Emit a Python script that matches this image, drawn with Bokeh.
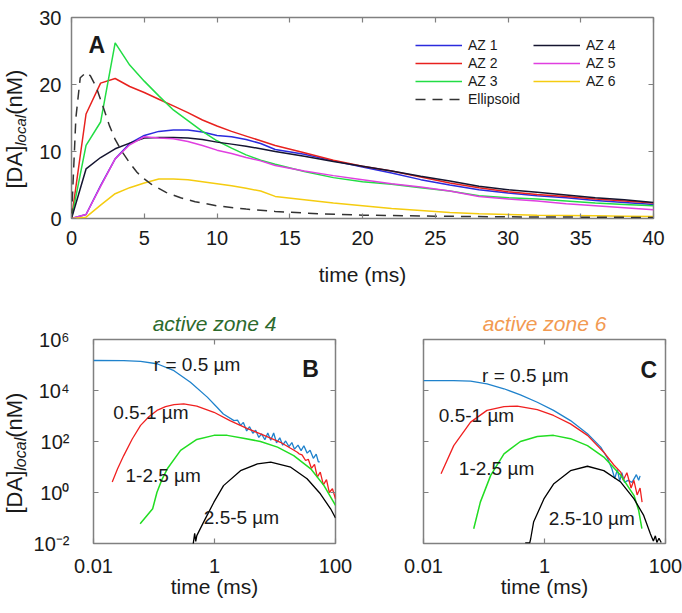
import math
from bokeh.plotting import figure
from bokeh.models import (Legend, LegendItem, Label, FixedTicker, LinearAxis, LogAxis,
                          CustomJSTickFormatter, Range1d)
from bokeh.core.properties import value
from bokeh.layouts import column, row
from bokeh.embed import file_html
from bokeh.resources import INLINE

FONT = "Liberation Sans"
TXT = "#1a1a1a"
GRAY = "#808080"

# ---------------- Panel A data ----------------
t_A = [0, 1, 2, 3, 4, 5, 6, 7, 8, 9, 10, 11, 12, 13, 14, 16, 18, 20, 22, 24, 26, 28, 30, 32, 34, 36, 38, 40]
az1 = [0, 0.6, 4.9, 8.9, 11.2, 12.4, 13.0, 13.2, 13.2, 12.9, 12.4, 12.2, 11.8, 11.2, 10.3, 9.6, 8.6, 7.7, 6.8, 5.8, 5.0, 4.3, 3.8, 3.4, 3.1, 2.7, 2.4, 2.1]
az2 = [0, 15.6, 20.2, 20.9, 19.7, 18.8, 17.8, 16.8, 15.8, 14.7, 13.8, 13.0, 12.3, 11.6, 10.9, 9.8, 8.7, 7.8, 7.1, 6.2, 5.3, 4.6, 4.0, 3.6, 3.3, 2.9, 2.6, 2.3]
az3 = [0, 10.9, 14.4, 26.2, 22.9, 20.5, 18.3, 16.2, 14.6, 13.0, 11.6, 10.5, 9.5, 8.7, 8.1, 7.0, 6.1, 5.5, 5.1, 4.6, 4.1, 3.4, 3.1, 2.9, 2.6, 2.3, 2.1, 1.9]
az4 = [0, 7.4, 9.1, 10.4, 11.25, 12.0, 12.1, 12.1, 12.0, 11.8, 11.4, 11.1, 10.8, 10.4, 10.0, 9.3, 8.5, 7.8, 7.1, 6.3, 5.6, 4.8, 4.3, 3.9, 3.5, 3.1, 2.8, 2.4]
az5 = [0, 0.6, 4.8, 8.9, 11.0, 12.2, 12.0, 11.9, 11.5, 10.9, 10.2, 9.7, 9.1, 8.6, 7.9, 7.1, 6.4, 5.8, 5.2, 4.7, 4.1, 3.3, 2.9, 2.6, 2.2, 1.9, 1.6, 1.3]
az6 = [0, 0.2, 2.0, 3.7, 4.6, 5.3, 5.9, 5.9, 5.8, 5.5, 5.2, 4.9, 4.5, 4.1, 3.3, 2.8, 2.3, 1.9, 1.5, 1.2, 0.9, 0.7, 0.6, 0.5, 0.45, 0.4, 0.35, 0.3]
t_ell = [0, 0.3, 0.6, 1.0, 1.3, 1.7, 2.2, 2.6, 3.0, 3.5, 4.0, 4.5, 5.0, 5.5, 6.5, 7.5, 8.5, 10, 12, 14, 17, 20, 25, 30, 35, 40]
ellipsoid = [0, 15, 21, 21.8, 21.3, 19.6, 16.5, 13.9, 11.8, 9.9, 8.3, 6.9, 5.9, 5.1, 3.9, 3.1, 2.5, 1.9, 1.4, 1.05, 0.7, 0.5, 0.35, 0.25, 0.2, 0.15]
xticks_A = [0, 5, 10, 15, 20, 25, 30, 35, 40]
yticks_A = [0, 10, 20, 30]

# ---------------- Panel B data (active zone 4) ----------------
b_r05_t = [0.01, 0.0316, 0.06, 0.112, 0.214, 0.4, 0.76, 1.1, 1.4, 2.1, 2.4, 2.7, 3.0, 3.4, 3.8, 4.3, 4.8, 5.4, 6.0, 6.8, 7.6, 8.5, 9.5, 10.6, 12, 13.4, 15, 17, 19, 21, 24, 27, 30, 34, 38, 43, 48, 52, 55]
b_r05_v = [1.5e5, 1.48e5, 1.38e5, 1.12e5, 6.0e4, 2.1e4, 5.5e3, 2.2e3, 1.2e3, 660, 690, 430, 560, 260, 380, 210, 275, 145, 200, 117, 215, 112, 215, 89, 140, 72, 105, 63, 91, 50, 72, 44, 68, 35, 45, 22, 32, 16, 16]
b_r1_t = [0.0204, 0.025, 0.0316, 0.0437, 0.06, 0.083, 0.112, 0.155, 0.214, 0.31, 0.51, 0.98, 1.8, 3.5, 6.6, 12.3, 23.4, 25, 28, 32, 35.5, 40, 45, 50, 56, 63, 71, 79, 89, 100]
b_r1_v = [2.6, 8.5, 28, 125, 430, 950, 1660, 2340, 2800, 3000, 2450, 1400, 660, 320, 175, 93, 38, 33, 30, 18, 20, 8.9, 12.6, 4.0, 6.3, 2.0, 3.2, 1.0, 1.4, 0.56]
b_r25_t = [0.059, 0.095, 0.112, 0.135, 0.166, 0.275, 0.51, 0.98, 1.62, 3.0, 5.75, 11, 20.4, 39, 64.6, 100]
b_r25_v = [0.059, 0.23, 1.02, 3.2, 8.5, 45, 120, 174, 174, 135, 100, 60, 28, 8.5, 1.86, 0.31]
b_r5_t = [0.44, 0.47, 0.49, 0.51, 0.66, 0.977, 1.41, 2.69, 5.13, 8.5, 18.2, 33.9, 56.2, 83, 100]
b_r5_v = [0.008, 0.025, 0.012, 0.0204, 0.069, 0.417, 1.86, 7.2, 13.2, 15.5, 9.8, 3.47, 0.89, 0.23, 0.1]

# ---------------- Panel C data (active zone 6) ----------------
c_r05_t = [0.01, 0.0316, 0.06, 0.112, 0.214, 0.4, 0.76, 1.41, 2.69, 5.13, 8.5, 11, 13, 14.5, 16, 17.5, 19, 21, 24, 28, 33, 36, 38]
c_r05_v = [2.45e4, 2.45e4, 2.34e4, 1.82e4, 1.17e4, 6760, 3470, 1660, 660, 200, 60, 22, 8.5, 3.5, 8, 2.8, 6, 2.5, 3, 2.5, 5, 3, 4.5]
c_r1_t = [0.0195, 0.0316, 0.06, 0.112, 0.214, 0.355, 0.76, 1.41, 2.69, 5.13, 9.55, 14, 18.2, 20, 23, 27, 30, 34, 38, 41]
c_r1_v = [5.4, 69, 575, 1660, 2340, 2450, 1780, 1050, 490, 174, 38, 12, 6.3, 3, 6, 1.5, 3, 0.8, 1.5, 0.42]
c_r25_t = [0.0676, 0.087, 0.129, 0.214, 0.4, 0.76, 1.41, 2.69, 5.13, 9.55, 18.2, 30.2, 36, 40.7]
c_r25_v = [0.038, 0.42, 4.7, 33, 100, 158, 174, 129, 69, 24.5, 4.7, 0.76, 0.2, 0.038]
c_r10_t = [0.48, 0.57, 0.59, 0.66, 0.977, 1.41, 2.69, 5.13, 9.55, 18.2, 30.2, 43.6, 56.2, 63, 68, 72, 78, 85]
c_r10_v = [0.0105, 0.0105, 0.015, 0.069, 0.56, 2.14, 7.2, 10.7, 7.2, 2.57, 0.56, 0.126, 0.024, 0.0126, 0.02, 0.011, 0.016, 0.011]

xticks_log = [0.01, 1, 100]
yticks_log = [1e-2, 1, 1e2, 1e4, 1e6]

C_BLUE, C_RED, C_GREEN, C_BLACK = "#1f82cc", "#f02020", "#22dd22", "#000000"
STRIP_W = 30


def style_axis(ax, fs, labels=True, standoff=5):
    ax.axis_line_color = None
    ax.major_tick_in = 5
    ax.major_tick_out = 0
    ax.minor_tick_in = 0
    ax.minor_tick_out = 0
    ax.minor_tick_line_color = None
    ax.major_tick_line_color = GRAY
    ax.major_tick_line_width = 1.2
    ax.major_label_text_font = FONT
    if labels:
        ax.major_label_text_color = TXT
        ax.major_label_text_font_size = fs
        ax.major_label_standoff = standoff
    else:
        ax.major_label_text_color = None
        ax.major_label_text_font_size = "1px"
        ax.major_label_standoff = 0
    ax.axis_label_text_font = FONT
    ax.axis_label_text_font_style = "normal"
    ax.axis_label_text_color = TXT


def add_label(p, x, y, text, size, style="normal", align="left", angle=0.0, color=TXT, baseline="alphabetic"):
    p.add_layout(Label(x=x, y=y, text=text, angle=angle, text_font=FONT,
                       text_font_size=f"{size}px", text_font_style=style, text_color=color,
                       text_align=align, text_baseline=baseline))


def label_strip(height, top, bottom, y_start, big, small, w=STRIP_W):
    """Narrow figure whose frame lines up with its neighbour's frame; y is in pixels from the
    top of the row, so the rotated [DA]_local (nM) title can be placed like the reference."""
    s = figure(width=w, height=height, x_range=Range1d(0, w), y_range=Range1d(height - bottom, top),
               title=None, min_border=0, min_border_left=0, min_border_right=0,
               min_border_top=top, min_border_bottom=bottom,
               x_axis_location=None, y_axis_location=None, output_backend="svg", toolbar_location=None)
    s.grid.visible = False
    s.outline_line_color = None
    len_da = 1.945 * big
    len_loc = 2.056 * small
    len_nm = 2.055 * big
    ys = [y_start - len_da / 2, y_start - len_da - len_loc / 2, y_start - len_da - len_loc - len_nm / 2]
    xs = [13.5, 19.5, 13.5]
    for (txt, x, y, size, style) in [("[DA]", xs[0], ys[0], big, "normal"),
                                     ("local", xs[1], ys[1], small, "italic"),
                                     ("(nM)", xs[2], ys[2], big, "normal")]:
        s.text(x=[x], y=[y], text=[txt], angle=math.pi / 2, text_font=value(FONT),
               text_font_size=f"{size}px", text_font_style=style, text_color=TXT,
               text_align="center", text_baseline="middle")
    return s


# ================= Panel A =================
pA = figure(frame_width=582, frame_height=201, x_range=(0, 40), y_range=(0, 30),
            min_border_left=71 - STRIP_W, min_border_right=29, min_border_top=17, min_border_bottom=82,
            output_backend="svg", toolbar_location=None)
pA.grid.visible = False
pA.outline_line_color = GRAY
pA.outline_line_width = 1.5
pA.xaxis.ticker = FixedTicker(ticks=xticks_A)
pA.yaxis.ticker = FixedTicker(ticks=yticks_A)
style_axis(pA.xaxis[0], "20px", standoff=12)
style_axis(pA.yaxis[0], "20px", standoff=10)
pA.xaxis[0].axis_label = "time (ms)"
pA.xaxis[0].axis_label_text_font_size = "21px"
pA.xaxis[0].axis_label_standoff = 15
topA = LinearAxis(ticker=FixedTicker(ticks=xticks_A))
style_axis(topA, "1px", labels=False)
pA.add_layout(topA, "above")
rightA = LinearAxis(ticker=FixedTicker(ticks=yticks_A))
style_axis(rightA, "1px", labels=False)
pA.add_layout(rightA, "right")

rA1 = pA.line(t_A, az1, line_color="#2b2bdd", line_width=1.5)
rA2 = pA.line(t_A, az2, line_color="#e8211e", line_width=1.5)
rA3 = pA.line(t_A, az3, line_color="#22dd44", line_width=1.5)
rA4 = pA.line(t_A, az4, line_color="#151530", line_width=1.5)
rA5 = pA.line(t_A, az5, line_color="#e03fe0", line_width=1.5)
rA6 = pA.line(t_A, az6, line_color="#f5cc10", line_width=1.5)
rAe = pA.line(t_ell, ellipsoid, line_color="#333333", line_width=1.5, line_dash="10 7")

leg_kw = dict(background_fill_alpha=0, border_line_color=None, padding=0, margin=0, spacing=2,
              label_height=16, glyph_height=16, glyph_width=47, label_standoff=6,
              label_text_font=FONT, label_text_font_size="14px", label_text_color=TXT)
leg1 = Legend(items=[LegendItem(label="AZ 1", renderers=[rA1]), LegendItem(label="AZ 2", renderers=[rA2]),
                     LegendItem(label="AZ 3", renderers=[rA3]), LegendItem(label="Ellipsoid", renderers=[rAe])],
              location=(344, 111), **leg_kw)
leg2 = Legend(items=[LegendItem(label="AZ 4", renderers=[rA4]), LegendItem(label="AZ 5", renderers=[rA5]),
                     LegendItem(label="AZ 6", renderers=[rA6])],
              location=(462, 129), **leg_kw)
pA.add_layout(leg1)
pA.add_layout(leg2)

add_label(pA, 1.17, 25.9, "A", 23, "bold")

labA = label_strip(300, 17, 82, 188, 22, 15)

# ================= Panels B, C =================
xfmt = CustomJSTickFormatter(code="return tick < 1 ? tick.toFixed(2) : tick.toFixed(0);")
yfmt = CustomJSTickFormatter(code="""
const sup = {"-": "\u207b", "0": "\u2070", "1": "\u00b9", "2": "\u00b2", "3": "\u00b3", "4": "\u2074",
             "5": "\u2075", "6": "\u2076", "7": "\u2077", "8": "\u2078", "9": "\u2079"};
const e = Math.round(Math.log10(tick));
return "10" + String(e).split("").map(c => sup[c]).join("");
""")


def log_panel(bl, br, ylabels, title, tcolor):
    p = figure(frame_width=242, frame_height=204, x_axis_type="log", y_axis_type="log",
               x_range=(0.01, 100), y_range=(1e-2, 1e6),
               min_border_left=bl, min_border_right=br, min_border_top=39, min_border_bottom=70,
               output_backend="svg", toolbar_location=None)
    p.grid.visible = False
    p.outline_line_color = GRAY
    p.outline_line_width = 1.5
    p.xaxis.ticker = FixedTicker(ticks=xticks_log)
    p.yaxis.ticker = FixedTicker(ticks=yticks_log)
    p.xaxis.formatter = xfmt
    p.yaxis.formatter = yfmt
    style_axis(p.xaxis[0], "20px", standoff=15)
    style_axis(p.yaxis[0], "20px", labels=ylabels, standoff=24)
    p.xaxis[0].axis_label = "time (ms)"
    p.xaxis[0].axis_label_text_font_size = "21px"
    p.xaxis[0].axis_label_standoff = -1
    top = LogAxis(ticker=FixedTicker(ticks=xticks_log), formatter=xfmt)
    style_axis(top, "1px", labels=False)
    p.add_layout(top, "above")
    right = LogAxis(ticker=FixedTicker(ticks=yticks_log), formatter=yfmt)
    style_axis(right, "1px", labels=False)
    p.add_layout(right, "right")
    p.title.text = title
    p.title.align = "center"
    p.title.text_font = FONT
    p.title.text_font_size = "21px"
    p.title.text_font_style = "italic"
    p.title.text_color = tcolor
    return p


pB = log_panel(93 - STRIP_W, 25, True, "active zone 4", "#2d6a2d")
pB.line(b_r05_t, b_r05_v, line_color=C_BLUE, line_width=1.3)
pB.line(b_r1_t, b_r1_v, line_color=C_RED, line_width=1.3)
pB.line(b_r25_t, b_r25_v, line_color=C_GREEN, line_width=1.5)
pB.line(b_r5_t, b_r5_v, line_color=C_BLACK, line_width=1.3)
add_label(pB, 0.0993, 1.02e5, "r = 0.5 \u00b5m", 19)
add_label(pB, 0.0212, 1330, "0.5-1 \u00b5m", 19)
add_label(pB, 0.0338, 4.6, "1-2.5 \u00b5m", 19)
add_label(pB, 0.665, 0.108, "2.5-5 \u00b5m", 19)
add_label(pB, 28.2, 7.1e4, "B", 23, "bold")

pC = log_panel(63, 17, False, "active zone 6", "#f29a52")
pC.line(c_r05_t, c_r05_v, line_color=C_BLUE, line_width=1.3)
pC.line(c_r1_t, c_r1_v, line_color=C_RED, line_width=1.3)
pC.line(c_r25_t, c_r25_v, line_color=C_GREEN, line_width=1.5)
pC.line(c_r10_t, c_r10_v, line_color=C_BLACK, line_width=1.3)
add_label(pC, 0.093, 3.9e4, "r = 0.5 \u00b5m", 19)
add_label(pC, 0.0179, 1050, "0.5-1 \u00b5m", 19)
add_label(pC, 0.0384, 8.5, "1-2.5 \u00b5m", 19)
add_label(pC, 1.18, 0.093, "2.5-10 \u00b5m", 19)
add_label(pC, 38.6, 6.5e4, "C", 23, "bold")

labB = label_strip(313, 39, 70, 513 - 300, 22, 16)

layout = column(row(labA, pA), row(labB, pB, pC))
open("out.html", "w").write(file_html(layout, INLINE))
